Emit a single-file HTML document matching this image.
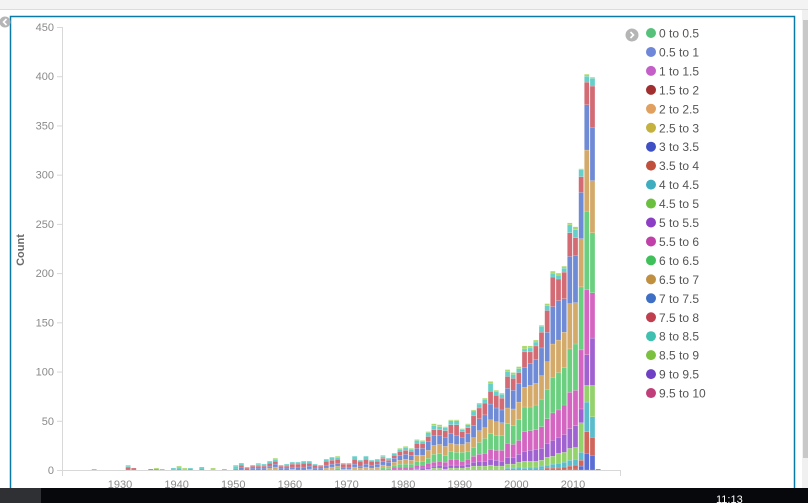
<!DOCTYPE html>
<html><head><meta charset="utf-8"><style>
html,body{margin:0;padding:0;width:808px;height:503px;overflow:hidden;background:#fff;font-family:"Liberation Sans",sans-serif}
</style></head><body>
<svg width="808" height="503" viewBox="0 0 808 503">
<rect x="0" y="0" width="808" height="9" fill="#f3f3f3"/>
<line x1="0" y1="9.5" x2="808" y2="9.5" stroke="#dcdcdc"/>
<rect x="10.5" y="16.5" width="784" height="480" fill="none" stroke="#0a7aa8" stroke-width="1.5"/>
<rect x="802" y="10" width="6" height="478" fill="#f0f0f0"/>
<rect x="803" y="20" width="5" height="438" fill="#c8c8c8"/>
<g><circle cx="5" cy="22" r="5.5" fill="#b5b5b5"/><path d="M6.5 19 L3.5 22 L6.5 25" stroke="#fff" stroke-width="1.6" fill="none"/></g>
<g id="axes"></g>
<g id="bars"></g>
<g id="legend"></g>
<rect x="0" y="488" width="808" height="15" fill="#06080c"/>
<rect x="0" y="488" width="41" height="15" fill="#2e3033"/>
<text x="716" y="503" fill="#fff" font-size="11">11:13</text>
</svg>
<script>
const years=[1925,1931,1932,1935,1936,1937,1939,1940,1941,1942,1944,1946,1948,1950,1951,1952,1953,1954,1955,1956,1957,1958,1959,1960,1961,1962,1963,1964,1965,1966,1967,1968,1969,1970,1971,1972,1973,1974,1975,1976,1977,1978,1979,1980,1981,1982,1983,1984,1985,1986,1987,1988,1989,1990,1991,1992,1993,1994,1995,1996,1997,1998,1999,2000,2001,2002,2003,2004,2005,2006,2007,2008,2009,2010,2011,2012,2013,2014];
const seriesNames=["3 to 3.5","3.5 to 4","4 to 4.5","4.5 to 5","5 to 5.5","5.5 to 6","6 to 6.5","6.5 to 7","7 to 7.5","7.5 to 8","8 to 8.5","8.5 to 9"];
const seriesColors=["#5a6ed4","#d0665b","#5bbccc","#94d26c","#a062d0","#d466c2","#6acf7e","#d4aa6a","#6f8bd6","#d26b73","#66cfca","#a9d86a"];
// per-series counts aligned with years
const s30=[0,0,0,0,0,0,0,0,0,0,0,0,0, 0,0,0,0,0,0,0,0,0,0,0,0,0,0,0,0,0,0,0,0,0,0,0,0,0,0,0,0,0,0,0,0,0,0,0,0,0,0,0,0,0,0,0,0,0,0,0,0,0,0,0,0,0,0,0,0,0,0,0,1,1,4,17,15,0];
const s35=[0,0,0,0,0,0,0,0,0,0,0,0,0, 0,0,0,0,0,0,0,0,0,0,0,0,0,0,0,0,0,0,0,0,0,0,0,0,0,0,0,0,0,0,0,0,0,0,0,0,0,0,0,0,0,0,0,0,0,0,0,0,1,1,1,1,1,1,1,2,2,2,3,3,4,6,22,18,1];
const s40=[0,0,0,0,0,0,0,0,0,0,0,0,0, 0,0,0,0,0,0,0,0,0,0,0,0,0,0,0,0,0,0,0,0,0,0,0,0,0,0,0,0,0,0,0,0,1,0,0,0,0,0,0,0,0,0,1,1,1,1,1,1,1,1,2,1,2,2,3,3,4,5,5,6,6,8,30,21,0];
const s45=[0,0,0,0,0,0,0,0,0,0,0,0,0, 0,0,0,0,0,0,0,0,0,0,0,0,0,0,0,0,0,0,0,0,0,0,0,0,0,0,0,0,0,0,0,0,0,0,1,2,2,1,2,2,2,3,3,3,3,4,3,3,4,4,5,7,6,6,6,8,8,10,10,12,12,30,17,32,0];
const s50=[0,0,0,0,0,0,0,0,0,0,0,0,0, 0,0,0,0,0,0,0,0,0,0,0,0,0,0,0,0,0,0,0,0,0,0,0,0,0,0,0,0,1,1,1,1,1,2,2,2,3,3,3,3,3,3,4,5,5,6,6,5,7,7,8,10,11,12,12,14,16,16,18,20,22,14,31,48,0];
const s55=[0,0,0,0,0,0,0,0,0,0,0,0,0, 0,0,0,0,0,0,0,0,0,0,0,0,0,0,0,0,0,0,1,0,0,0,0,0,0,0,1,1,2,2,2,2,3,3,4,4,4,4,6,6,4,5,6,7,8,10,10,11,14,13,14,20,20,20,22,25,28,28,30,37,36,60,66,46,0];
const s60=[0,0,0,0,0,0,0,0,0,0,0,0,0, 0,0,0,0,0,0,0,0,0,0,0,0,0,0,0,0,0,1,1,0,0,1,0,1,1,1,2,1,2,3,3,3,4,4,5,8,8,7,8,7,9,8,9,12,15,16,15,15,20,19,21,25,24,25,28,30,36,38,38,44,47,64,80,61,0];
const s65=[0,0,0,0,0,0,0,0,0,0,0,0,0, 0,0,0,0,0,0,2,3,0,0,1,0,0,1,0,0,2,2,2,1,1,2,2,2,1,2,2,2,3,4,5,4,6,6,8,9,9,9,8,8,8,9,10,12,11,14,14,13,16,17,18,20,22,22,24,28,34,33,36,46,42,49,62,53,0];
const s70=[0,0,0,0,0,0,0,0,0,1,0,0,0, 1,3,0,2,2,2,2,3,2,2,2,3,3,3,2,2,3,3,3,2,2,3,2,3,3,3,4,4,4,5,5,5,7,7,9,10,9,9,10,9,7,9,12,12,13,16,14,13,20,19,19,20,22,24,28,30,38,40,34,48,48,47,46,54,0];
const s75=[0,3,2,1,1,0,0,1,0,0,1,0,0, 0,2,2,2,2,2,3,3,2,2,3,3,4,3,3,2,4,4,4,3,3,5,5,5,4,3,3,2,3,4,4,4,5,5,5,6,6,7,9,11,6,6,10,11,12,13,13,12,12,12,11,16,12,14,16,22,30,22,27,24,18,16,23,42,0];
const s80=[1,1,0,0,0,1,2,2,1,1,2,0,1, 3,2,1,1,2,2,2,2,1,2,2,2,2,2,1,1,2,3,2,1,1,3,1,3,1,2,2,2,2,2,3,2,3,2,4,4,3,3,4,4,2,3,5,4,4,8,4,4,5,4,4,3,4,4,6,5,4,4,4,8,8,7,6,8,0];
const s85=[0,1,0,0,1,0,0,1,1,0,0,2,0, 1,0,0,0,1,0,0,1,0,0,0,0,0,0,0,0,0,0,1,0,0,0,0,0,0,0,1,0,0,1,1,1,1,1,1,2,2,1,1,1,1,1,1,1,1,2,1,1,2,2,2,3,2,2,1,2,2,2,2,2,3,1,2,1,0];
const series=[s30,s35,s40,s45,s50,s55,s60,s65,s70,s75,s80,s85];
const yTicks=[0,50,100,150,200,250,300,350,400,450];
const xTicks=[1930,1940,1950,1960,1970,1980,1990,2000,2010];
const legendLabels=["0 to 0.5","0.5 to 1","1 to 1.5","1.5 to 2","2 to 2.5","2.5 to 3","3 to 3.5","3.5 to 4","4 to 4.5","4.5 to 5","5 to 5.5","5.5 to 6","6 to 6.5","6.5 to 7","7 to 7.5","7.5 to 8","8 to 8.5","8.5 to 9","9 to 9.5","9.5 to 10"];
const legendColors=["#57c17b","#6f87d8","#c35fc7","#a12f2f","#e0a060","#c4b13e","#3f4fc4","#c0503c","#3fadc0","#6bbf3e","#8c3fc4","#c03fa8","#3fc05a","#c09040","#3f6fc4","#c03f4f","#3fc0b0","#7bc03f","#6f3fc4","#c03f7a"];

const NS="http://www.w3.org/2000/svg";
const y0=470, pxPerUnit=443/450;
const yS=v=>y0-v*pxPerUnit;
const xS=yr=>120+(yr-1930)*5.663;
function mk(tag,attrs,parent){const e=document.createElementNS(NS,tag);for(const k in attrs)e.setAttribute(k,attrs[k]);parent.appendChild(e);return e;}
const axes=document.getElementById('axes');
let a=mk('line',{x1:62.5,y1:27,x2:62.5,y2:470,stroke:'#d8d8d8'},axes);


a=mk('path',{d:'M62 470.5 H620.5 V476',stroke:'#d8d8d8',fill:'none'},axes);


a=mk('line',{x1:62.5,y1:470,x2:62.5,y2:476,stroke:'#d8d8d8'},axes);


yTicks.forEach(t=>{
  const l=mk('line',{x1:57,x2:62,y1:yS(t)+0.5,y2:yS(t)+0.5,stroke:'#d8d8d8'},axes);
  
  
  const tx=mk('text',{x:54,y:yS(t)+4,'text-anchor':'end','font-size':'11',fill:'#8a8a8a'},axes);
  tx.textContent=t;
  
  
});
xTicks.forEach(t=>{
  const tx=mk('text',{x:xS(t),y:488,'text-anchor':'middle','font-size':'11',fill:'#8a8a8a'},axes);
  tx.textContent=t;
  
  
});
const yt=mk('text',{x:24,y:250,transform:'rotate(-90 24 250)','text-anchor':'middle','font-size':'11','font-weight':'bold',fill:'#6a6a6a'},axes);
yt.textContent='Count';



const bars=document.getElementById('bars');
years.forEach((yr,i)=>{
  let cum=0;
  series.forEach((s,k)=>{
    const v=s[i]; if(!v) return;
    const r=mk('rect',{x:xS(yr),width:4.9,y:yS(cum+v),height:v*pxPerUnit,fill:seriesColors[k],stroke:'rgba(255,255,255,0.35)','stroke-width':0.4},bars);
    
    
    cum+=v;
  });
});

const lg=document.getElementById('legend');
const tog=mk('g',{},lg);


mk('circle',{cx:632,cy:35,r:6.5,fill:'#b5b5b5'},tog);
mk('path',{d:'M630.5 32 L633.5 35 L630.5 38',stroke:'#fff','stroke-width':1.6,fill:'none'},tog);
legendLabels.forEach((lab,i)=>{
  const g=mk('g',{},lg);
  
  
  const cy=33+i*18.95;
  mk('circle',{cx:651,cy:cy,r:5,fill:legendColors[i]},g);
  const t=mk('text',{x:659,y:cy+4.5,'font-size':'12',fill:'#555'},g);
  t.textContent=lab;
});
</script>
</body></html>
